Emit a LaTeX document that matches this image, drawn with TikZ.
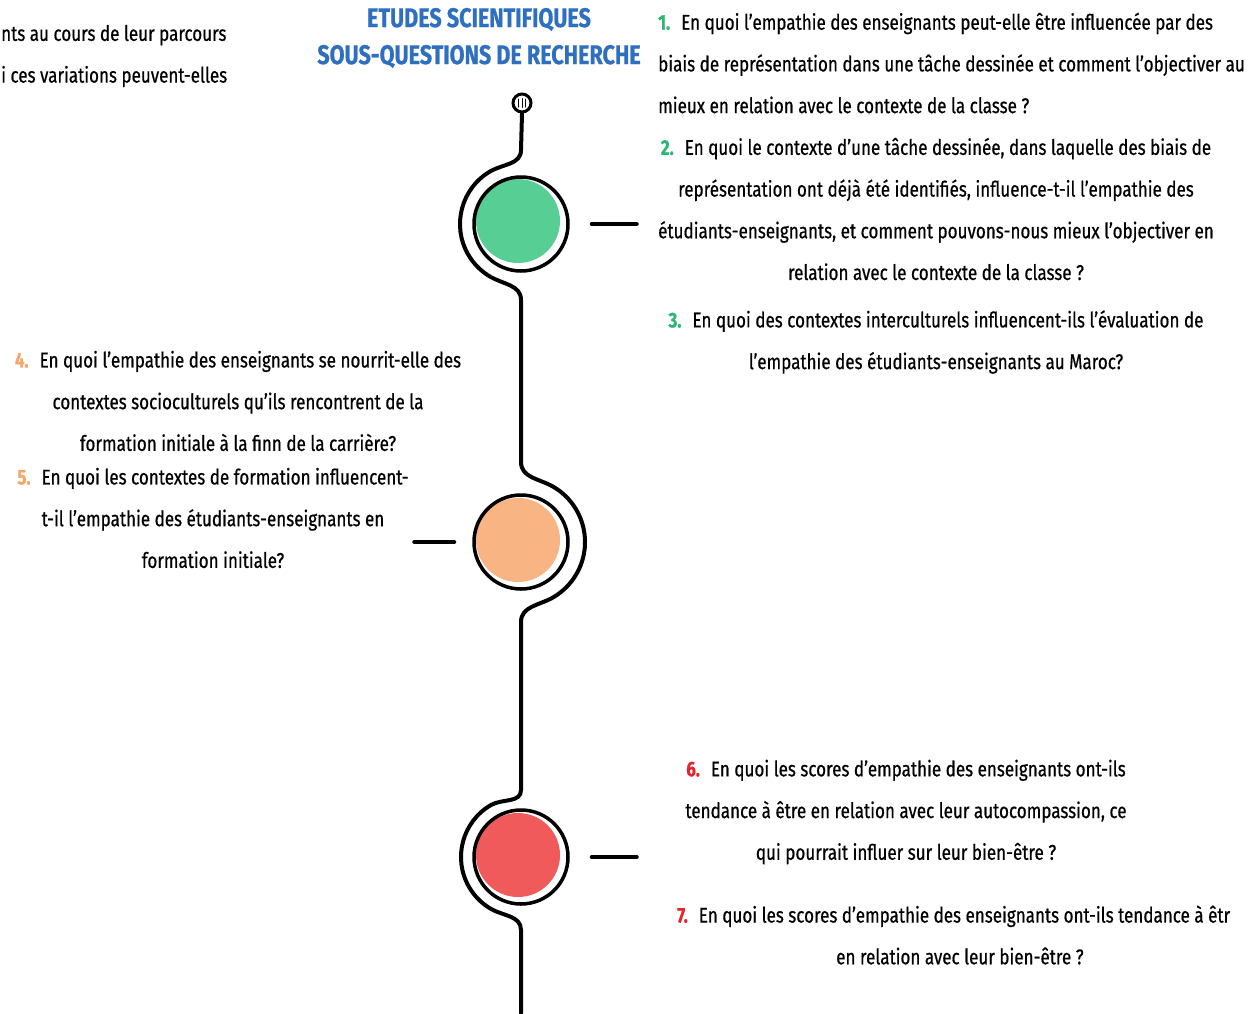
\documentclass[tikz,border=0pt]{standalone}
\usepackage{fontspec}
\setmainfont{Fira Sans}[FakeStretch=0.8, FakeBold=0.6]
\definecolor{numgreen}{HTML}{2BB673}
\definecolor{numorange}{HTML}{F4A66B}
\definecolor{numred}{HTML}{E3262B}
\definecolor{dotgreen}{HTML}{57CF94}
\definecolor{dotorange}{HTML}{F9B483}
\definecolor{dotred}{HTML}{F15A5A}
\definecolor{titleblue}{HTML}{2E6FC0}
\newcommand\qnum[2]{\textcolor{#1}{\bfseries #2}\hspace{11pt}}
\begin{document}
\begin{tikzpicture}[x=1pt, y=-1pt, line cap=round,
  qtext/.style={font=\fontsize{21.3}{41.7}\selectfont, inner sep=0pt},
  ring/.style={circle, draw, line width=3.5pt, minimum size=94pt, inner sep=0pt},
  dot/.style={circle, minimum size=84pt, inner sep=0pt},
  track/.style={line width=4pt}]
\useasboundingbox (0,0) rectangle (1256,1013);

% stations on the track
\node[dot, fill=dotgreen] (gdot) at (518,221) {};
\node[ring] (gring) at (521,224) {};
\node[dot, fill=dotorange] (odot) at (518,540) {};
\node[ring] (oring) at (521,542) {};
\node[dot, fill=dotred] (rdot) at (518,855) {};
\node[ring] (rring) at (521,857) {};

% start icon
\node[circle, draw, line width=3pt, minimum size=18pt, inner sep=0pt] (icon) at (522,103) {};
\draw[line width=1pt] (518.5,99) -- (518.5,107) (522,98.5) -- (522,107.5) (525.5,99) -- (525.5,107);

% winding track
\draw[track] (icon.south) -- (521,150) to[out=-90, in=30] (490.5,171.2)
  arc[start angle=120, end angle=240, radius=61pt] to[out=-30, in=90] (521,300)
  -- (521,462) to[out=-90, in=150] (553,486.6)
  arc[start angle=60, end angle=-60, radius=64pt] to[out=210, in=90] (521,622)
  -- (521,790) to[out=-90, in=30] (491,805)
  arc[start angle=120, end angle=240, radius=60pt] to[out=-30, in=90] (521,930)
  -- (521,1013);

% dashes
\draw[track] ([xshift=22pt]gring.east) -- ++(45,0);
\draw[track] ([xshift=-18pt]oring.west) -- ++(-40,0);
\draw[track] ([xshift=22pt]rring.east) -- ++(45,0);

% texts
\node[qtext, anchor=west, align=left] (intro) at (1,56)
  {nts au cours de leur parcours\\ i ces variations peuvent-elles};
\node[font=\fontsize{27}{37}\selectfont\bfseries, text=titleblue, align=center, inner sep=0pt] (title) at (479,38)
  {ETUDES SCIENTIFIQUES\\ SOUS-QUESTIONS DE RECHERCHE};
\node[qtext, anchor=west, align=left] (q1) at (658,63)
  {\qnum{numgreen}{1.}En quoi l’empathie des enseignants peut-elle être influencée par des\\
   biais de représentation dans une tâche dessinée et comment l’objectiver au\\
   mieux en relation avec le contexte de la classe ?};
\node[qtext, align=center] (q2) at (936,209)
  {\qnum{numgreen}{2.}En quoi le contexte d’une tâche dessinée, dans laquelle des biais de\\
   représentation ont déjà été identifiés, influence-t-il l'empathie des\\
   étudiants-enseignants, et comment pouvons-nous mieux l’objectiver en\\
   relation avec le contexte de la classe ?};
\node[qtext, align=center] (q3) at (936,342)
  {\qnum{numgreen}{3.}En quoi des contextes interculturels influencent-ils l’évaluation de\\
   l’empathie des étudiants-enseignants au Maroc?};
\node[qtext, align=center] (q4) at (238,401)
  {\qnum{numorange}{4.}En quoi l’empathie des enseignants se nourrit-elle des\\
   contextes socioculturels qu’ils rencontrent de la\\
   formation initiale à la finn de la carrière?};
\node[qtext, align=center] (q5) at (213,518)
  {\qnum{numorange}{5.}En quoi les contextes de formation influencent-\\
   t-il l’empathie des étudiants-enseignants en\\
   formation initiale?};
\node[qtext, align=center] (q6) at (906,812)
  {\qnum{numred}{6.}En quoi les scores d’empathie des enseignants ont-ils\\
   tendance à être en relation avec leur autocompassion, ce\\
   qui pourrait influer sur leur bien-être ?};
\node[qtext, anchor=west, align=left] (q7) at (677,935)
  {\qnum{numred}{7.}En quoi les scores d’empathie des enseignants ont-ils tendance à êtr\\
   \hspace*{159pt}en relation avec leur bien-être ?};
\end{tikzpicture}
\end{document}
